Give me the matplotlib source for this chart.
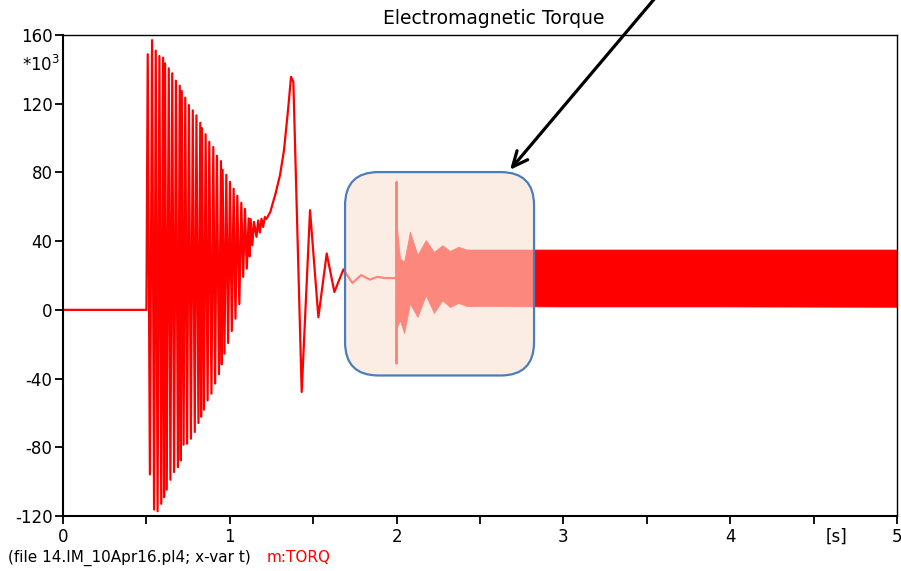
import numpy as np
import matplotlib.pyplot as plt
from matplotlib.patches import FancyBboxPatch

plt.rcParams['font.family'] = ['DejaVu Sans']
plt.rcParams['mathtext.fontset'] = 'dejavusans'
plt.rcParams['axes.unicode_minus'] = False

# torque trace, time in s, torque in 1e3 units
t_pre = [0.0, 0.500]
v_pre = [0.0, 0.0]

# start-up oscillation: alternating peaks and troughs
t_osc = [0.508, 0.521, 0.534, 0.546, 0.556, 0.567, 0.578, 0.589, 0.600, 0.606,
         0.612, 0.622, 0.634, 0.644, 0.655, 0.666, 0.677, 0.689, 0.700, 0.706,
         0.712, 0.723, 0.733, 0.744, 0.755, 0.767, 0.778, 0.790, 0.800, 0.812,
         0.823, 0.828, 0.833, 0.845, 0.855, 0.867, 0.877, 0.890, 0.901, 0.912,
         0.923, 0.935, 0.947, 0.952, 0.957, 0.968, 0.979, 0.990, 1.001, 1.012,
         1.023, 1.034, 1.045, 1.057, 1.069, 1.080, 1.091, 1.102, 1.113, 1.119,
         1.125, 1.135, 1.145, 1.160]
v_osc = [148.8, -95.8, 157.0, -116.2, 150.9, -117.2, 147.8, -112.9, 146.8, -109.0,
         143.5, -104.7, 140.6, -98.9, 137.7, -94.4, 133.4, -91.5, 130.5, -87.6,
         127.4, -78.5, 123.5, -77.9, 119.2, -75.0, 116.1, -71.1, 113.2, -65.9,
         108.9, -62.2, 105.8, -58.1, 102.2, -52.7, 97.8, -48.8, 94.8, -42.9,
         89.7, -37.5, 86.6, -31.7, 81.5, -25.5, 78.6, -19.3, 74.5, -12.3,
         70.5, -5.1, 66.4, 3.3, 62.3, 19.2, 58.8, 24.0, 53.2, 31.2,
         52.8, 37.6, 51.2, 42.5]

# pull-in transient up to the load step
t_pull = [1.170, 1.180, 1.190, 1.200, 1.210, 1.220, 1.243, 1.275, 1.301, 1.325,
          1.351, 1.367, 1.381, 1.431, 1.481, 1.531, 1.581, 1.627, 1.681, 1.735,
          1.787, 1.841, 1.884, 1.930, 1.998]
v_pull = [52.0, 45.0, 53.0, 48.3, 54.0, 53.0, 57.0, 68.0, 78.4, 93.0,
          118.2, 135.7, 132.8, -47.8, 58.0, -4.3, 32.8, 10.4, 23.5, 15.7,
          20.2, 17.6, 19.2, 18.5, 18.5]

# spike at the load step
t_step = [2.000, 2.000, 2.001]
v_step = [74.5, -31.3, 18.5]

# ripple band after the step (envelope of the fast oscillation)
t_band = [2.002, 2.020, 2.045, 2.080, 2.125, 2.175, 2.224, 2.274, 2.320, 2.370,
          2.420, 3.000, 4.000, 5.000]
band_hi = [48.0, 30.0, 28.0, 45.5, 32.0, 40.6, 33.7, 37.6, 34.3, 36.7,
           35.1, 35.1, 35.1, 35.1]
band_lo = [-10.0, -6.0, -13.5, 3.7, -4.1, 8.5, -1.8, 5.6, 1.7, 4.0,
           2.3, 2.0, 2.0, 1.8]

t = t_pre + t_osc + t_pull + t_step
v = v_pre + v_osc + v_pull + v_step

fig = plt.figure(figsize=(9.01, 5.71), dpi=100)
ax = fig.add_axes([63/901, 55/571, 834/901, 481/571])

ax.plot(t, v, color='#ff0000', lw=1.6, zorder=2)
ax.fill_between(t_band, band_lo, band_hi, color='#ff0000', lw=0.6, zorder=2)

ax.set_xlim(0, 5)
ax.set_ylim(-120, 160)
ax.set_yticks(np.arange(-120, 161, 40))
ax.set_xticks(np.arange(0, 5.01, 0.5))
ax.set_xticklabels(['0', '', '1', '', '2', '', '3', '', '4', '', '5'])
ax.tick_params(direction='out', length=6, width=1.3, labelsize=12, colors='black')
ax.tick_params(axis='y', pad=1.5)
ax.tick_params(axis='x', pad=2.5)
for side in ['left', 'bottom']:
    ax.spines[side].set_linewidth(1.5)
for side in ['top', 'right']:
    ax.spines[side].set_linewidth(1.0)

ax.annotate('[s]', xy=(4.637, 0), xycoords=('data', 'axes fraction'),
            xytext=(0, -8.5), textcoords='offset points',
            ha='center', va='top', fontsize=12)
fig.text(22/901, 1 - 65/571, r'*10$^3$', fontsize=12, va='center', ha='left')

fig.text(494/901, 1 - 18/571, 'Electromagnetic Torque', fontsize=13.5,
         ha='center', va='center')
fig.text(8/901, 1 - 558/571, '(file 14.IM_10Apr16.pl4; x-var t)', fontsize=11,
         ha='left', va='center')
fig.text(267/901, 1 - 558/571, 'm:TORQ', fontsize=11, color='#ff0000',
         ha='left', va='center')

# highlight box over the load step, rounded in screen space
box_x0, box_x1 = 1.691, 2.824
box_y0, box_y1 = -38.2, 80.2
bb = ax.get_window_extent()
aspect = (bb.width / 5.0) / (bb.height / 280.0)
box = FancyBboxPatch((box_x0, box_y0), box_x1 - box_x0, box_y1 - box_y0,
                     boxstyle='round,pad=0,rounding_size=0.2',
                     mutation_aspect=aspect, facecolor='#fbe2d2', alpha=0.6,
                     edgecolor='none', zorder=3)
ax.add_patch(box)
edge = FancyBboxPatch((box_x0, box_y0), box_x1 - box_x0, box_y1 - box_y0,
                      boxstyle='round,pad=0,rounding_size=0.2',
                      mutation_aspect=aspect, facecolor='none',
                      edgecolor='#4a7ebb', lw=1.6, zorder=4)
ax.add_patch(edge)

ax.annotate('', xy=(2.68, 81.5), xytext=(3.58, 185),
            xycoords='data', textcoords='data', annotation_clip=False,
            arrowprops=dict(arrowstyle='->,head_length=1.1,head_width=0.5',
                            color='black', lw=2.3, shrinkA=0, shrinkB=0),
            zorder=5)

fig.savefig('out.png', dpi=100)
